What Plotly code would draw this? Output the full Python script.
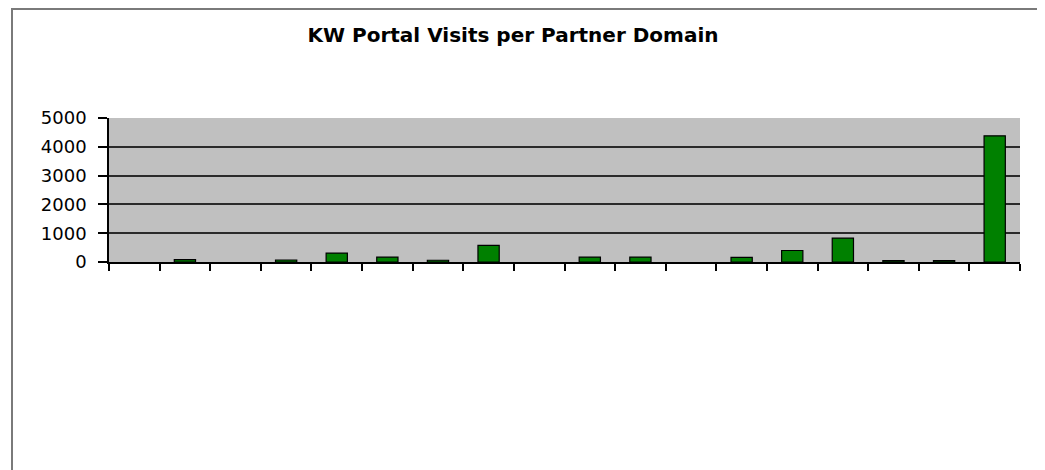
import plotly.graph_objects as go

categories = [f"Domain {i}" for i in range(1, 19)]
visits = [0, 80, 0, 70, 310, 170, 60, 580, 0, 170, 170, 0, 160, 400, 830, 50, 50, 4380]
y_ticks = [0, 1000, 2000, 3000, 4000, 5000]
title_text = "KW Portal Visits per Partner Domain"

fig = go.Figure()
fig.add_trace(go.Bar(
    x=categories, y=visits,
    marker=dict(color="#008000",
                line=dict(color="#000000",
                          width=[0 if v == 0 else 1.2 for v in visits])),
))

# page body has an 8px margin; work in figure coordinates
W, H = 1037, 462
L, R, T, B = 101, 25, 110, 208
pw, ph = W - L - R, H - T - B

def px_x(p):
    return (p - L) / pw

def px_y(p):
    return (H - B - p) / ph

fig.update_layout(
    width=W, height=H,
    margin=dict(l=L, r=R, t=T, b=B),
    paper_bgcolor="white",
    plot_bgcolor="#C0C0C0",
    showlegend=False,
    bargap=0.58,
    font=dict(family="DejaVu Sans, Arial, sans-serif", color="#000000"),
    title=dict(text="<b>" + title_text + "</b>", x=505 / W, xanchor="center",
               y=1 - 27 / H, yanchor="middle",
               font=dict(size=20, color="#000000")),
    xaxis=dict(showticklabels=False, ticks="outside", tickson="boundaries",
               ticklen=7, tickwidth=1.5, tickcolor="#000000",
               showline=True, linecolor="#000000", linewidth=1.5,
               showgrid=False, zeroline=False),
    yaxis=dict(range=[0, 5000], tickvals=y_ticks, ticks="outside",
               ticklen=9, tickwidth=1.5, tickcolor="#000000",
               ticklabelstandoff=8,
               showline=True, linecolor="#000000", linewidth=1.5,
               showgrid=True, gridcolor="#2a2a2a", gridwidth=1.8,
               zeroline=False, tickfont=dict(size=18, color="#000000")),
    shapes=[dict(type="rect", xref="paper", yref="paper",
                 x0=px_x(4), x1=px_x(1032), y0=px_y(1), y1=px_y(480),
                 line=dict(color="#7a7a7a", width=2), fillcolor="rgba(0,0,0,0)",
                 layer="below")],
)

fig.write_html("out.html")
